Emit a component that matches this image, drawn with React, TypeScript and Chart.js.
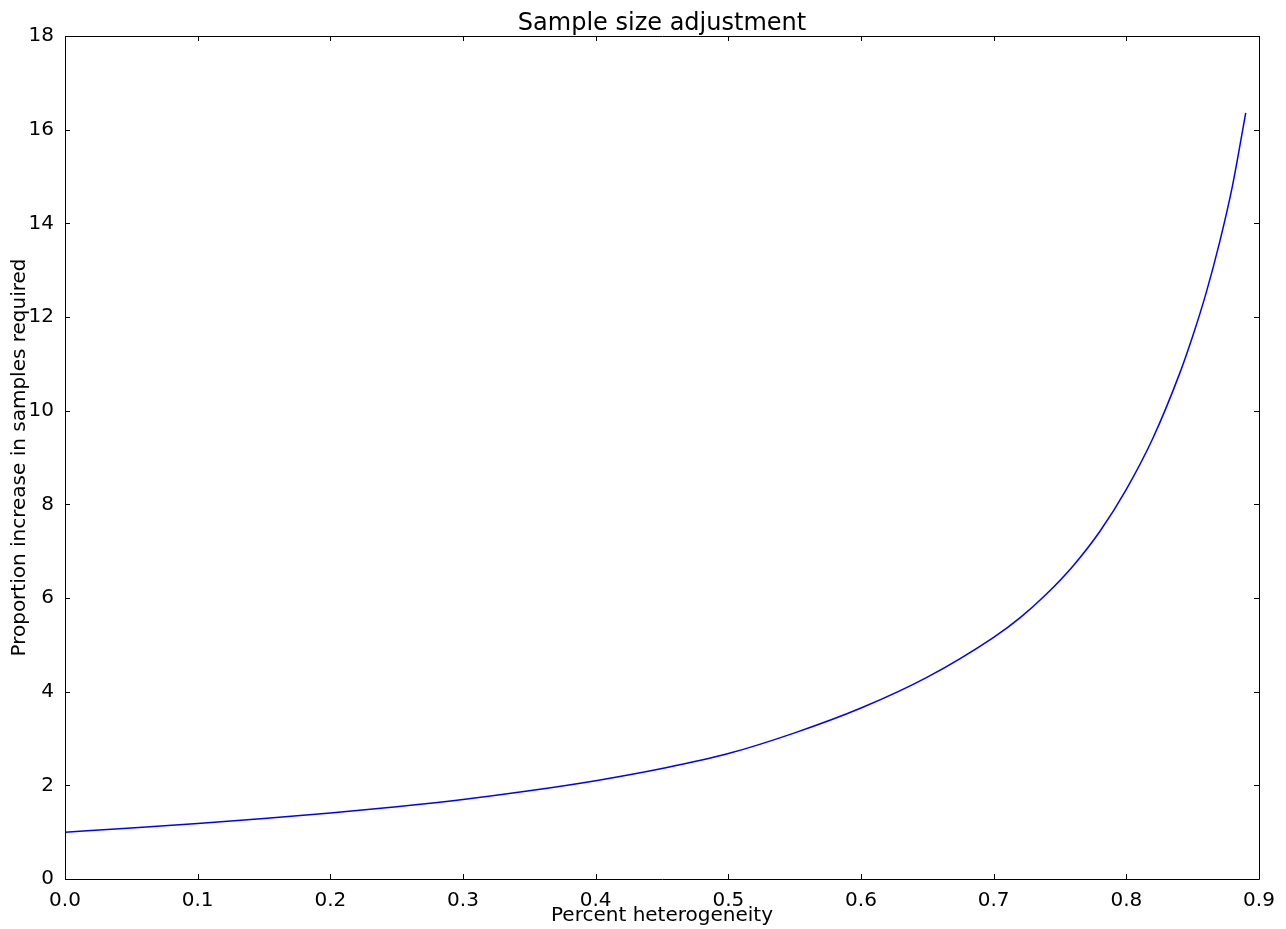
import React, { useEffect, useRef } from "react";
import { Chart, registerables } from "chart.js";

Chart.register(...registerables);

const heterogeneity = [0, 0.05, 0.1, 0.15, 0.2, 0.25, 0.3, 0.35, 0.4, 0.45, 0.5, 0.55, 0.6, 0.65, 0.7, 0.72, 0.74, 0.76, 0.78, 0.8, 0.82, 0.84, 0.85, 0.86, 0.87, 0.88, 0.89];
const sampleIncrease = [1.0, 1.087, 1.183, 1.29, 1.411, 1.545, 1.70, 1.885, 2.10, 2.36, 2.678, 3.12, 3.65, 4.31, 5.16, 5.58, 6.09, 6.69, 7.42, 8.32, 9.41, 10.78, 11.59, 12.5, 13.56, 14.8, 16.36];

const xTickValues = [0, 0.1, 0.2, 0.3, 0.4, 0.5, 0.6, 0.7, 0.8, 0.9];
const yTickValues = [0, 2, 4, 6, 8, 10, 12, 14, 16, 18];

const titleText = "Sample size adjustment";
const xTitle = "Percent heterogeneity";
const yTitle = "Proportion increase in samples required";

const FONT = "'DejaVu Sans', sans-serif";

const framePlugin = {
  id: "mplFrame",
  afterDraw(chart: any) {
    const { ctx, chartArea } = chart;
    const { left, right, top, bottom } = chartArea;
    const xs = chart.scales.x;
    const ys = chart.scales.y;
    ctx.save();
    ctx.strokeStyle = "#000";
    ctx.lineWidth = 1;
    ctx.beginPath();
    ctx.rect(Math.round(left) + 0.5, Math.round(top) + 0.5, Math.round(right - left), Math.round(bottom - top));
    ctx.stroke();
    const tl = 5;
    ctx.beginPath();
    xTickValues.forEach((v) => {
      const px = Math.round(xs.getPixelForValue(v)) + 0.5;
      ctx.moveTo(px, bottom);
      ctx.lineTo(px, bottom - tl);
      ctx.moveTo(px, top);
      ctx.lineTo(px, top + tl);
    });
    yTickValues.forEach((v) => {
      const py = Math.round(ys.getPixelForValue(v)) + 0.5;
      ctx.moveTo(left, py);
      ctx.lineTo(left + tl, py);
      ctx.moveTo(right, py);
      ctx.lineTo(right - tl, py);
    });
    ctx.stroke();
    ctx.fillStyle = "#000";
    ctx.font = `24px ${FONT}`;
    ctx.textAlign = "center";
    ctx.textBaseline = "alphabetic";
    ctx.fillText(titleText, (left + right) / 2, 29.5);
    ctx.restore();
  },
};

export default function App() {
  const ref = useRef<HTMLCanvasElement | null>(null);
  useEffect(() => {
    if (!ref.current) return;
    const chart = new Chart(ref.current, {
      type: "line",
      data: {
        datasets: [
          {
            data: heterogeneity.map((x, i) => ({ x, y: sampleIncrease[i] })),
            borderColor: "#0000ff",
            borderWidth: 1.5,
            pointRadius: 0,
            fill: false,
            cubicInterpolationMode: "monotone",
          },
        ],
      },
      options: {
        animation: false,
        responsive: false,
        layout: { padding: { left: 0, right: 27, top: 36, bottom: 0 } },
        plugins: { legend: { display: false }, tooltip: { enabled: false }, title: { display: false } },
        scales: {
          x: {
            type: "linear",
            min: 0,
            max: 0.9,
            grid: { display: false },
            border: { display: false },
            afterFit: (s: any) => { s.height = 50; },
            afterBuildTicks: (s: any) => { s.ticks = xTickValues.map((v) => ({ value: v })); },
            ticks: {
              color: "#000",
              font: { family: FONT, size: 20 },
              padding: 2,
              maxRotation: 0,
              autoSkip: false,
              callback: (v: any) => Number(v).toFixed(1),
            },
            title: { display: true, text: xTitle, color: "#000", font: { family: FONT, size: 20 }, padding: { top: 0, bottom: 1 } },
          },
          y: {
            type: "linear",
            min: 0,
            max: 18,
            grid: { display: false },
            border: { display: false },
            afterFit: (s: any) => { s.width = 65; },
            afterBuildTicks: (s: any) => { s.ticks = yTickValues.map((v) => ({ value: v })); },
            ticks: {
              color: "#000",
              font: { family: FONT, size: 20 },
              padding: 3,
              autoSkip: false,
              callback: (v: any) => String(v),
            },
            title: { display: true, text: yTitle, color: "#000", font: { family: FONT, size: 20 }, padding: { top: 8, bottom: 0 } },
          },
        },
      },
      plugins: [framePlugin],
    });
    return () => chart.destroy();
  }, []);
  return (
    <div style={{ position: "fixed", left: 0, top: 0, width: 1286, height: 929, background: "#fff" }}>
      <canvas ref={ref} width={1286} height={929} style={{ display: "block" }} />
    </div>
  );
}
